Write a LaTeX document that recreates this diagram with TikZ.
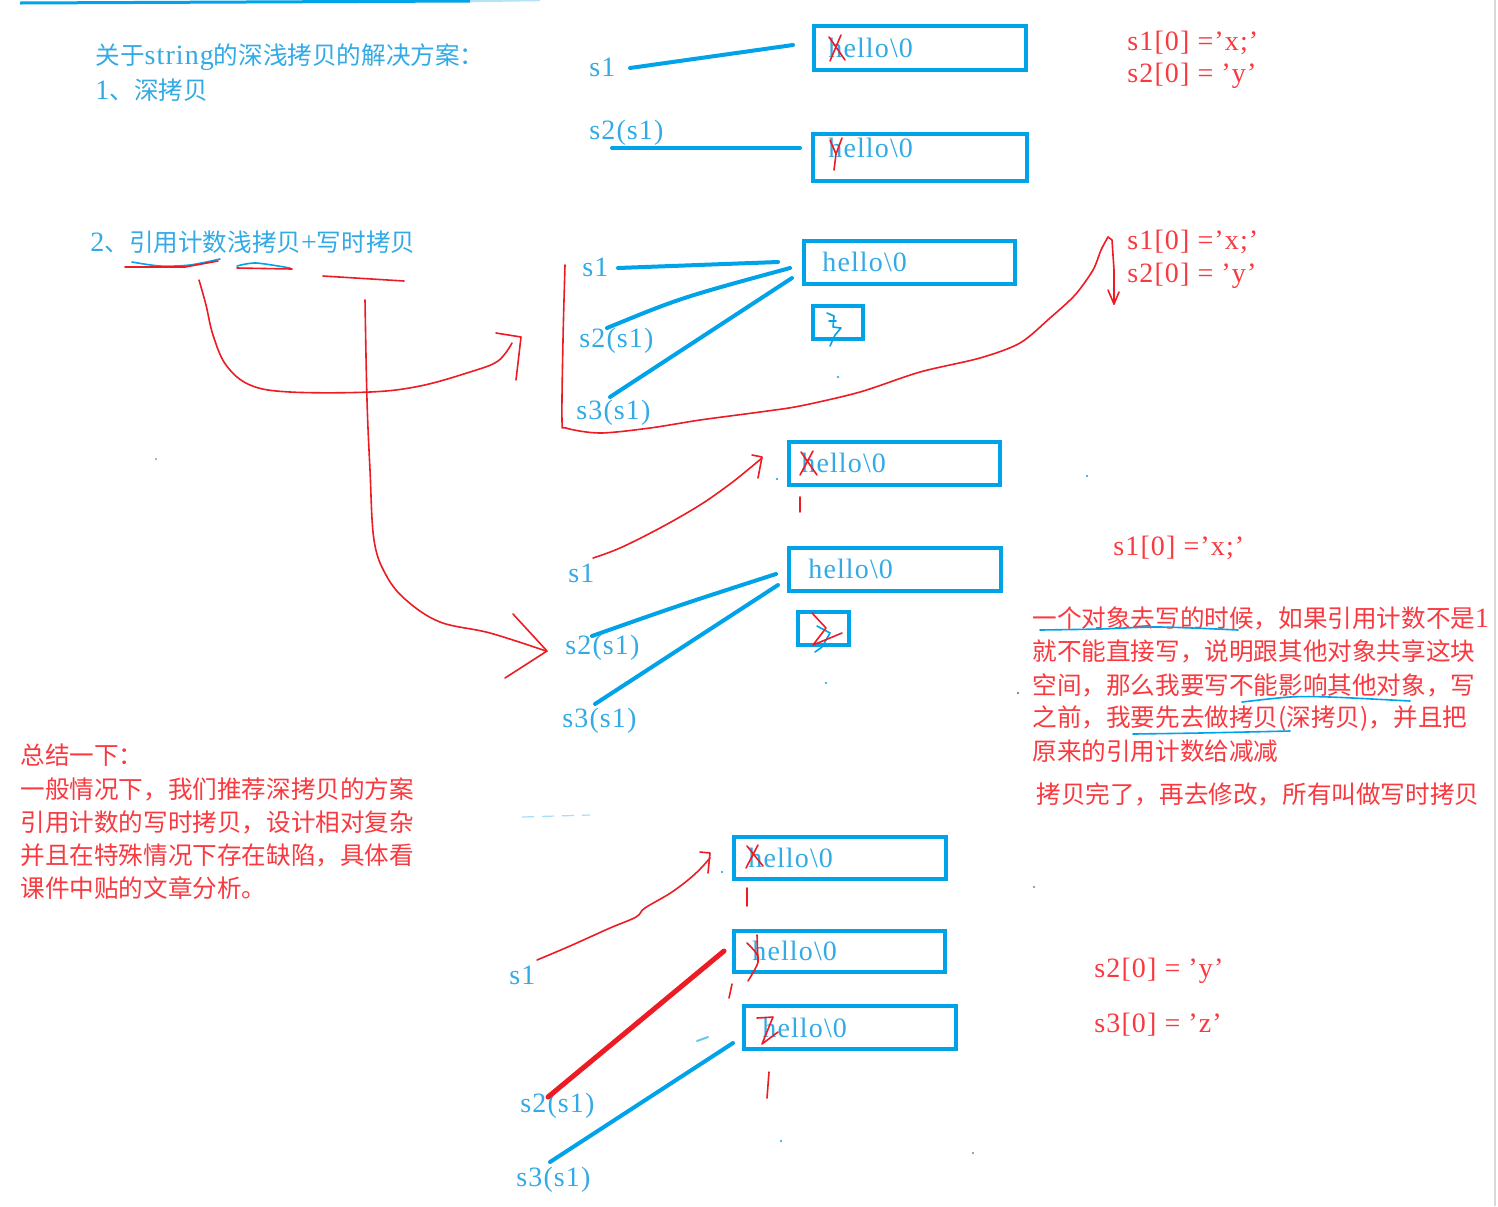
\documentclass[tikz,border=0pt]{standalone}
\usepackage{fontspec}
\newfontfamily\cjk{Noto Sans CJK SC}
\newfontfamily\lat[LetterSpace=4]{Liberation Serif}
\definecolor{lblue}{RGB}{0,162,232}
\definecolor{tblue}{RGB}{50,170,230}
\definecolor{lred}{RGB}{237,28,36}
\definecolor{tred}{RGB}{248,58,64}
\tikzset{
  memorybox/.style={draw=lblue, line width=2pt, inner sep=0pt, rectangle},
  latlab/.style={inner sep=0pt, anchor=west, font=\lat\fontsize{14}{16}\selectfont},
  zhlab/.style={inner sep=0pt, anchor=west, font=\cjk\fontsize{12.3}{15}\selectfont},
  ptr/.style={draw=lblue, line width=2pt, line cap=round},
  pen/.style={draw=lred, line width=0.8pt, line cap=round, line join=round},
  bpen/.style={draw=lblue, line width=0.8pt, line cap=round, line join=round},
  dotmark/.style={fill=#1, circle, inner sep=0pt, minimum size=1.2pt},
}
\newcommand{\lt}[1]{{\lat\fontsize{14}{16}\selectfont #1}}
\begin{document}
\begin{tikzpicture}[x=0.5pt,y=-0.5pt]
\useasboundingbox (0,0) rectangle (1498,1206);
\fill[white] (0,0) rectangle (1498,1206);
% page decorations
\draw[lblue, line width=1.5pt] (20,3) -- (470,1);
\draw[lblue!30, line width=1.2pt] (470,1) -- (540,0);
\draw[black!15, line width=0.8pt] (1495,0) -- (1495,1206);

% ---------- titles ----------
\node[zhlab, text=tblue] (t1) at (95,57) {关于\lt{string}的深浅拷贝的解决方案：};
\node[zhlab, text=tblue] (t2) at (95,90) {\lt{1}、深拷贝};
\node[zhlab, text=tblue] (t3) at (90,242) {\lt{2}、引用计数浅拷贝\lt{+}写时拷贝};

% ---------- section 1 ----------
\node[memorybox, minimum width=106pt, minimum height=22pt] (b1) at (920,48) {};
\node[memorybox, minimum width=107pt, minimum height=23.5pt] (b2) at (920,157.5) {};
\node[latlab, text=tblue] (h1) at (828,48) {hello\textbackslash 0};
\node[latlab, text=tblue] (h2) at (828,148) {hello\textbackslash 0};
\node[latlab, text=tblue] (s1a) at (589,67) {s1};
\node[latlab, text=tblue] (s2a) at (589,133) {s2(s1)};
\coordinate (p1a) at (630,68); \coordinate (p1b) at (793,45);
\coordinate (p2a) at (612,148); \coordinate (p2b) at (800,148);
\draw[ptr] (p1a) -- (p1b);
\draw[ptr] (p2a) -- (p2b);
\draw[pen] (829,37) -- (845,60); \draw[pen] (841,35) -- (830,61);
\draw[pen] (830,140) -- (836,154) -- (842,138); \draw[pen] (836,154) -- (834,170);
\node[latlab, text=tred] (r1) at (1127,43) {s1[0] =’x;’};
\node[latlab, text=tred] (r2) at (1127,76) {s2[0] = ’y’};

% ---------- section 2 ----------
\draw[bpen] plot[smooth] coordinates {(132,262) (160,266) (190,265) (220,259)};
\draw[pen] (125,267) -- (185,267) -- (218,261);
\draw[bpen] plot[smooth] coordinates {(237,266) (256,263) (290,268)};
\draw[pen] (237,268) -- (292,269);
\draw[pen] (323,276) -- (404,281);
\draw[pen] plot[smooth, tension=0.6] coordinates {(199,280) (206,305) (213,335) (226,365) (250,385) (290,392) (370,392) (420,386) (470,372) (498,361) (512,343)};
\draw[pen] (496,333) -- (521,337) -- (516,380);
\draw[pen] plot[smooth, tension=0.6] coordinates {(365,300) (367,400) (370,470) (374,540) (386,575) (406,600) (440,622) (490,633) (546,651)};
\draw[pen] (513,614) -- (547,651) -- (505,678);

\node[memorybox, minimum width=105.5pt, minimum height=21.5pt] (b3) at (909.5,262.5) {};
\node[latlab, text=tblue] (h3) at (822,262) {hello\textbackslash 0};
\node[memorybox, minimum width=25pt, minimum height=16.5pt] (c3) at (838,322.5) {};
\node[latlab, text=tblue] (s1b) at (582,267) {s1};
\node[latlab, text=tblue] (s2b) at (579,341) {s2(s1)};
\node[latlab, text=tblue] (s3b) at (576,413) {s3(s1)};
\coordinate (p3a) at (618,268); \coordinate (p3b) at (778,262);
\coordinate (p4a) at (607,328); \coordinate (p4b) at (790,268);
\coordinate (p5a) at (610,397); \coordinate (p5b) at (792,278);
\draw[ptr] (p3a) -- (p3b);
\draw[ptr] (p4a) .. controls (680,298) .. (p4b);
\draw[ptr] (p5a) -- (p5b);
\draw[bpen] (827,313) -- (834,316) -- (833,327) -- (841,328) -- (835,335) -- (830,346);
\draw[bpen] (829,321) -- (836,321);
\draw[pen] plot[smooth, tension=0.5] coordinates {(565,265) (563,340) (562,420) (566,428) (600,433) (650,428) (700,420) (760,412) (800,406) (860,392) (920,372) (980,358) (1020,343) (1050,318) (1075,295) (1093,270) (1101,250) (1108,237)};
\draw[pen] (1108,237) -- (1112,240) -- (1114,270) -- (1114,304);
\draw[pen] (1108,290) -- (1114,304) -- (1119,292);
\node[latlab, text=tred] (r3) at (1127,242) {s1[0] =’x;’};
\node[latlab, text=tred] (r4) at (1127,276) {s2[0] = ’y’};

% ---------- section 3 ----------
\node[memorybox, minimum width=105.5pt, minimum height=21.5pt] (b4) at (894.5,463.5) {};
\node[latlab, text=tblue] (h4) at (801,463) {hello\textbackslash 0};
\node[memorybox, minimum width=106pt, minimum height=21.5pt] (b5) at (895,569.5) {};
\node[latlab, text=tblue] (h5) at (808,569) {hello\textbackslash 0};
\node[memorybox, minimum width=25.5pt, minimum height=16.5pt] (c5) at (823.5,628.5) {};
\node[latlab, text=tblue] (s1c) at (568,573) {s1};
\node[latlab, text=tblue] (s2c) at (565,648) {s2(s1)};
\node[latlab, text=tblue] (s3c) at (562,721) {s3(s1)};
\coordinate (p6a) at (592,636); \coordinate (p6b) at (776,574);
\coordinate (p7a) at (595,704); \coordinate (p7b) at (778,585);
\draw[ptr] (p6a) .. controls (680,605) .. (p6b);
\draw[ptr] (p7a) -- (p7b);
\draw[pen] (801,452) -- (817,475); \draw[pen] (813,451) -- (800,475);
\draw[pen] (800,497) -- (800,512);
\coordinate (q5a) at (593,558); \coordinate (q5b) at (762,458);
\draw[pen] plot[smooth, tension=0.6] coordinates {(q5a) (620,548) (660,528) (700,505) (730,484) (750,468) (q5b)};
\draw[pen] (752,455) -- (762,457) -- (758,478);
\draw[bpen] (817,626) -- (830,633) -- (822,647) -- (815,652);
\draw[pen] (812,613) -- (826,628) -- (813,645) -- (842,633);
\node[latlab, text=tred] (r5) at (1113,548) {s1[0] =’x;’};

% explanation paragraph
\node[zhlab, text=tred] (e1) at (1032,618) {一个对象去写的时候，如果引用计数不是\lt{1}};
\node[zhlab, text=tred] (e2) at (1032,651) {就不能直接写，说明跟其他对象共享这块};
\node[zhlab, text=tred] (e3) at (1032,685) {空间，那么我要写不能影响其他对象，写};
\node[zhlab, text=tred] (e4) at (1032,718) {之前，我要先去做拷贝(深拷贝)，并且把};
\node[zhlab, text=tred] (e5) at (1032,751) {原来的引用计数给减减};
\node[zhlab, text=tred] (e6) at (1036,794) {拷贝完了，再去修改，所有叫做写时拷贝};
\draw[bpen] plot[smooth] coordinates {(1040,630) (1100,629) (1160,627) (1238,630)};
\draw[bpen] plot[smooth] coordinates {(1242,702) (1290,697) (1330,697) (1410,701)};
\draw[bpen] plot[smooth] coordinates {(1133,734) (1200,733) (1290,731)};

% summary
\node[zhlab, text=tred] (m1) at (20,755) {总结一下：};
\node[zhlab, text=tred] (m2) at (20,789) {一般情况下，我们推荐深拷贝的方案};
\node[zhlab, text=tred] (m3) at (20,822) {引用计数的写时拷贝，设计相对复杂};
\node[zhlab, text=tred] (m4) at (20,855) {并且在特殊情况下存在缺陷，具体看};
\node[zhlab, text=tred] (m5) at (20,888) {课件中贴的文章分析。};

% ---------- section 4 ----------
\draw[lblue!35, line width=0.6pt, dash pattern=on 6pt off 4pt] (522,817) -- (590,815);
\node[memorybox, minimum width=106pt, minimum height=21pt] (b6) at (840,858) {};
\node[latlab, text=tblue] (h6) at (748,858) {hello\textbackslash 0};
\node[memorybox, minimum width=105.5pt, minimum height=20.5pt] (b7) at (839.5,951.5) {};
\node[latlab, text=tblue] (h7) at (752,951) {hello\textbackslash 0};
\node[memorybox, minimum width=106pt, minimum height=21.5pt] (b8) at (850,1027.5) {};
\node[latlab, text=tblue] (h8) at (762,1028) {hello\textbackslash 0};
\node[latlab, text=tblue] (s1d) at (509,975) {s1};
\node[latlab, text=tblue] (s2d) at (520,1106) {s2(s1)};
\node[latlab, text=tblue] (s3d) at (516,1180) {s3(s1)};
\coordinate (q6a) at (537,960); \coordinate (q6b) at (710,858);
\draw[pen] plot[smooth, tension=0.6] coordinates {(q6a) (570,946) (610,928) (636,917) (645,908) (672,892) (695,874) (q6b)};
\draw[pen] (700,852) -- (710,853) -- (708,873);
\coordinate (p8a) at (548,1097); \coordinate (p8b) at (724,951);
\draw[draw=lred, line width=2.5pt, line cap=round] (p8a) -- (p8b);
\coordinate (p9a) at (550,1162); \coordinate (p9b) at (733,1043);
\draw[ptr] (p9a) -- (p9b);
\draw[lblue!60, line width=1pt, line cap=round] (697,1041) -- (708,1037);
\draw[pen] (747,846) -- (763,866); \draw[pen] (758,845) -- (746,868);
\draw[pen] (747,888) -- (747,906);
\draw[pen] (757,935) -- (758,962);
\draw[pen] (747,943) .. controls (762,958) .. (748,981);
\draw[pen] (732,984) -- (729,998);
\draw[pen] (757,1018) -- (773,1017) -- (762,1044) -- (778,1032);
\draw[pen] (769,1072) -- (767,1098);
\node[latlab, text=tred] (r6) at (1094,971) {s2[0] = ’y’};
\node[latlab, text=tred] (r7) at (1094,1025) {s3[0] = ’z’};

% stray dots
\node[dotmark=lblue] (d1) at (777,479) {};
\node[dotmark=lblue] (d2) at (838,377) {};
\node[dotmark=lblue] (d3) at (826,683) {};
\node[dotmark=lblue] (d4) at (722,872) {};
\node[dotmark=lblue] (d5) at (781,1141) {};
\node[dotmark=black!50] (d6) at (973,1153) {};
\node[dotmark=black!40] (d7) at (156,459) {};
\node[dotmark=lblue] (d8) at (1087,476) {};
\node[dotmark=black!50] (d9) at (1034,887) {};
\node[dotmark=black!60] (d10) at (1018,693) {};
\end{tikzpicture}
\end{document}
